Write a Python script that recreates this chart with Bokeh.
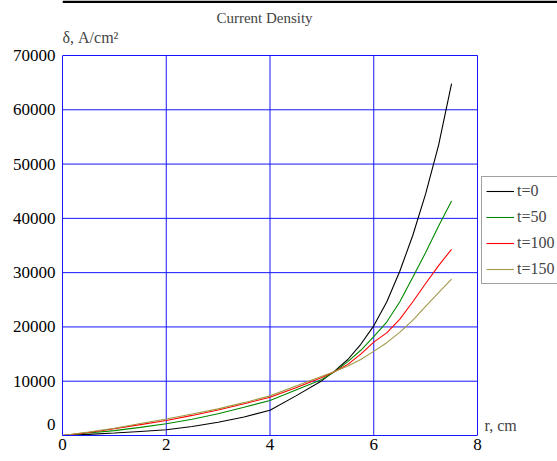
from bokeh.plotting import figure
from bokeh.models import (Range1d, FixedTicker, Label, Legend, LegendItem,
                          BoxAnnotation)
from bokeh.embed import file_html
from bokeh.resources import INLINE

# radius, cm
r = [0, 0.5, 1, 1.5, 2, 2.5, 3, 3.5, 4, 4.5, 5, 5.25, 5.5, 5.75, 6,
     6.25, 6.5, 6.75, 7, 7.25, 7.5]

# current density, A/cm^2, at several times
d_t0 = [0, 200, 450, 750, 1050, 1650, 2450, 3400, 4650, 7300, 10100, 11900, 14000,
        16800, 20200, 24600, 30200, 36800, 44500, 53500, 64800]
d_t50 = [0, 450, 900, 1500, 2150, 3000, 4000, 5200, 6450, 8400, 10300, 11800, 13600,
         15700, 18200, 20900, 24600, 29100, 33700, 38600, 43200]
d_t100 = [0, 550, 1250, 2000, 2750, 3700, 4700, 5850, 7050, 8800, 10700, 11800, 13100,
          15000, 17200, 18900, 21400, 24600, 28000, 31300, 34300]
d_t150 = [0, 650, 1350, 2200, 3050, 3950, 4900, 6050, 7300, 9100, 10900, 11800, 12800,
          14000, 15500, 17100, 19000, 21200, 23800, 26300, 28800]

series_names = ["t=0", "t=50", "t=100", "t=150"]
series_data = [d_t0, d_t50, d_t100, d_t150]
series_colors = ["#000000", "#008800", "#FF0000", "#A09A46"]

x_ticks = [0, 2, 4, 6, 8]
y_ticks = [0, 10000, 20000, 30000, 40000, 50000, 60000, 70000]
x_lo, x_hi = 0, 8
y_lo, y_hi = 0, 70000

SERIF = "Liberation Serif"
BLUE = "#1414FF"

# page geometry: the drawing area runs to the top/right edges so the
# title, axis captions and legend can live inside it
W, H = 557, 461
LEFT, BOTTOM = 62, 26
FRAME_W, FRAME_H = W - LEFT, H - BOTTOM
BOX_W, BOX_H = 415, 380          # pixel size of the gridded box
x_end = x_hi * FRAME_W / BOX_W
y_end = y_hi * FRAME_H / BOX_H

p = figure(width=W, height=H, output_backend="svg", toolbar_location=None,
           x_range=Range1d(x_lo, x_end), y_range=Range1d(y_lo, y_end),
           min_border_left=LEFT, min_border_right=0, min_border_top=0,
           min_border_bottom=BOTTOM)
p.background_fill_color = "white"
p.border_fill_color = "white"
p.outline_line_color = None
p.xgrid.visible = False
p.ygrid.visible = False

for ax in (p.xaxis[0], p.yaxis[0]):
    ax.axis_line_color = BLUE
    ax.axis_line_width = 1
    ax.major_tick_in = 0
    ax.major_tick_out = 0
    ax.minor_tick_in = 0
    ax.minor_tick_out = 0
    ax.major_label_text_font = SERIF
    ax.major_label_text_font_size = "17px"
    ax.major_label_text_color = "#000000"

p.xaxis.ticker = FixedTicker(ticks=x_ticks)
p.yaxis.ticker = FixedTicker(ticks=y_ticks)
p.xaxis.bounds = (x_lo, x_hi)
p.yaxis.bounds = (y_lo, y_hi)
p.xaxis.major_label_standoff = 3
p.yaxis.major_label_standoff = 7
# lift the y zero label clear of the corner
p.yaxis.major_label_overrides = {0: "0\n "}

# blue grid, bounded to the data box (includes the top and right edges)
vx = x_ticks[1:]
p.segment(x0=vx, y0=[y_lo] * len(vx), x1=vx, y1=[y_hi] * len(vx),
          line_color=BLUE, line_width=1)
hy = y_ticks[1:]
p.segment(x0=[x_lo] * len(hy), y0=hy, x1=[x_hi] * len(hy), y1=hy,
          line_color=BLUE, line_width=1)

items = []
for name, ys, col in zip(series_names, series_data, series_colors):
    rr = p.line(r, ys, line_color=col, line_width=1.1)
    items.append(LegendItem(label=name, renderers=[rr]))

legend = Legend(items=items, location=(419, 151), orientation="vertical",
                label_text_font=SERIF, label_text_font_size="16px",
                glyph_width=28, glyph_height=20, label_height=20,
                label_standoff=3, spacing=6, padding=4, margin=0,
                border_line_color="#444444", border_line_width=1.5,
                background_fill_color="white", background_fill_alpha=1)
p.add_layout(legend, "center")

p.add_layout(Label(x=202, y=FRAME_H - 17, x_units="screen", y_units="screen",
                   text="Current Density", text_font=SERIF, text_font_size="15px",
                   text_align="center", text_baseline="middle"))
p.add_layout(Label(x=0, y=FRAME_H - 37, x_units="screen", y_units="screen",
                   text="δ, A/cm²", text_font=SERIF, text_font_size="16px",
                   text_align="left", text_baseline="middle"))
p.add_layout(Label(x=422, y=10, x_units="screen", y_units="screen",
                   text="r, cm", text_font=SERIF, text_font_size="16px",
                   text_align="left", text_baseline="middle"))

# thin rule along the top edge of the page
p.add_layout(BoxAnnotation(bottom=y_end * (1 - 2.5 / FRAME_H),
                           fill_color="black", fill_alpha=1, line_alpha=0))

open("out.html", "w").write(file_html(p, INLINE))
